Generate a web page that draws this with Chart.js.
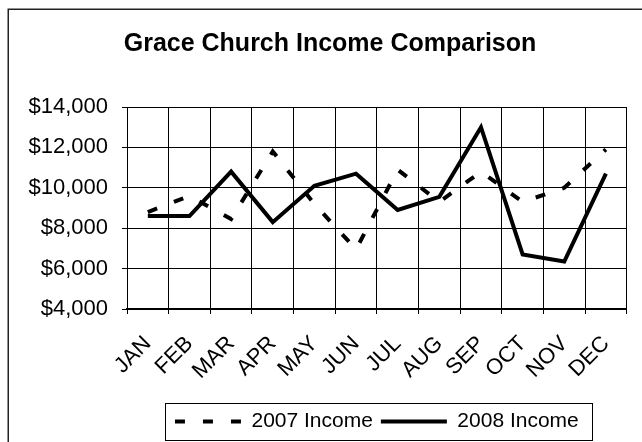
<!DOCTYPE html>
<html>
<head>
<meta charset="utf-8">
<script src="https://cdn.jsdelivr.net/npm/chart.js@4"></script>
<style>
html,body{margin:0;padding:0;background:#fff;}
canvas{display:block;}
</style>
</head>
<body>
<canvas id="c" width="642" height="442"></canvas>
<script>
const chartTitle = 'Grace Church Income Comparison';
const months = ['JAN','FEB','MAR','APR','MAY','JUN','JUL','AUG','SEP','OCT','NOV','DEC'];
const seriesNames = ['2007 Income','2008 Income'];
const income2007 = [8800, 9600, 8450, 11800, 9200, 6950, 10900, 9300, 10800, 9300, 10000, 11900];
const income2008 = [8600, 8600, 10800, 8300, 10100, 10700, 8900, 9550, 13000, 6700, 6350, 10700];
const yTickValues = [4000, 6000, 8000, 10000, 12000, 14000];
const yTickLabels = ['$4,000','$6,000','$8,000','$10,000','$12,000','$14,000'];

const FONT = "'Liberation Sans', Arial, Helvetica, sans-serif";
Chart.defaults.font.family = FONT;
Chart.defaults.color = '#000';

const framePlugin = {
  id: 'frame',
  beforeDraw(chart) {
    const ctx = chart.ctx;
    ctx.save();
    ctx.fillStyle = '#fff';
    ctx.fillRect(0, 0, chart.width, chart.height);
    ctx.restore();
  },
  afterDraw(chart) {
    const ctx = chart.ctx;
    ctx.save();
    ctx.strokeStyle = '#222';
    ctx.lineWidth = 1.5;
    ctx.strokeRect(8.25, 9.25, 800, 600);
    const lg = chart.legend;
    const hb = lg.legendHitBoxes;
    if (hb && hb.length) {
      const first = hb[0], last = hb[hb.length - 1];
      const l = Math.round(first.left - 10) + 0.5;
      const r = Math.round(last.left + last.width + 13) + 0.5;
      const t = Math.round(lg.top) + 0.5;
      const b = Math.round(lg.bottom) - 1.5;
      ctx.strokeStyle = '#000';
      ctx.lineWidth = 1;
      ctx.strokeRect(l, t, r - l, b - t);
    }
    ctx.restore();
  }
};

new Chart(document.getElementById('c'), {
  type: 'line',
  data: {
    labels: months,
    datasets: [
      {
        label: seriesNames[0],
        data: income2007,
        borderColor: '#000',
        backgroundColor: '#000',
        borderWidth: 4,
        borderDash: [10, 18],
        borderJoinStyle: 'miter',
        borderCapStyle: 'butt',
        pointRadius: 0,
        tension: 0,
        fill: false
      },
      {
        label: seriesNames[1],
        data: income2008,
        borderColor: '#000',
        backgroundColor: '#000',
        borderWidth: 4,
        borderJoinStyle: 'miter',
        borderCapStyle: 'butt',
        pointRadius: 0,
        tension: 0,
        fill: false
      }
    ]
  },
  options: {
    responsive: false,
    animation: false,
    devicePixelRatio: 1,
    layout: { padding: { left: 28, right: 10, top: 0, bottom: 0 } },
    plugins: {
      title: {
        display: true,
        text: chartTitle,
        color: '#000',
        font: { family: FONT, size: 25, weight: 'bold', lineHeight: 1.2 },
        padding: { top: 29, bottom: 48 }
      },
      legend: {
        position: 'bottom',
        fullSize: false,
        labels: {
          usePointStyle: true,
          pointStyle: 'line',
          pointStyleWidth: 66,
          color: '#000',
          font: { family: FONT, size: 21 },
          padding: 8,
          generateLabels(chart) {
            const items = Chart.defaults.plugins.legend.labels.generateLabels(chart);
            items.forEach(it => {
              const ds = chart.data.datasets[it.datasetIndex];
              it.lineDash = ds.borderDash || [];
              it.lineWidth = ds.borderWidth;
              it.strokeStyle = ds.borderColor;
              it.pointStyle = 'line';
              it.lineCap = 'butt';
            });
            return items;
          }
        }
      },
      tooltip: { enabled: false }
    },
    scales: {
      x: {
        offset: true,
        grid: { offset: true, color: '#000', lineWidth: 1, tickLength: 5, tickColor: '#000' },
        border: { display: true, color: '#000', width: 2 },
        ticks: {
          autoSkip: false, minRotation: 45, maxRotation: 45, padding: 17,
          color: '#000', font: { family: FONT, size: 22 }
        },
        afterFit(s) { s.height = 94; }
      },
      y: {
        min: 4000,
        max: 14000,
        grid: { color: '#000', lineWidth: 1, tickLength: 5, tickColor: '#000' },
        border: { display: true, color: '#000', width: 1 },
        ticks: {
          padding: 14, color: '#000', font: { family: FONT, size: 22 },
          callback(v) { const i = yTickValues.indexOf(v); return i >= 0 ? yTickLabels[i] : ''; }
        },
        afterBuildTicks(s) { s.ticks = yTickValues.map(v => ({ value: v })); },
        afterFit(s) { s.width = 99; }
      }
    }
  },
  plugins: [framePlugin]
});
</script>
</body>
</html>
